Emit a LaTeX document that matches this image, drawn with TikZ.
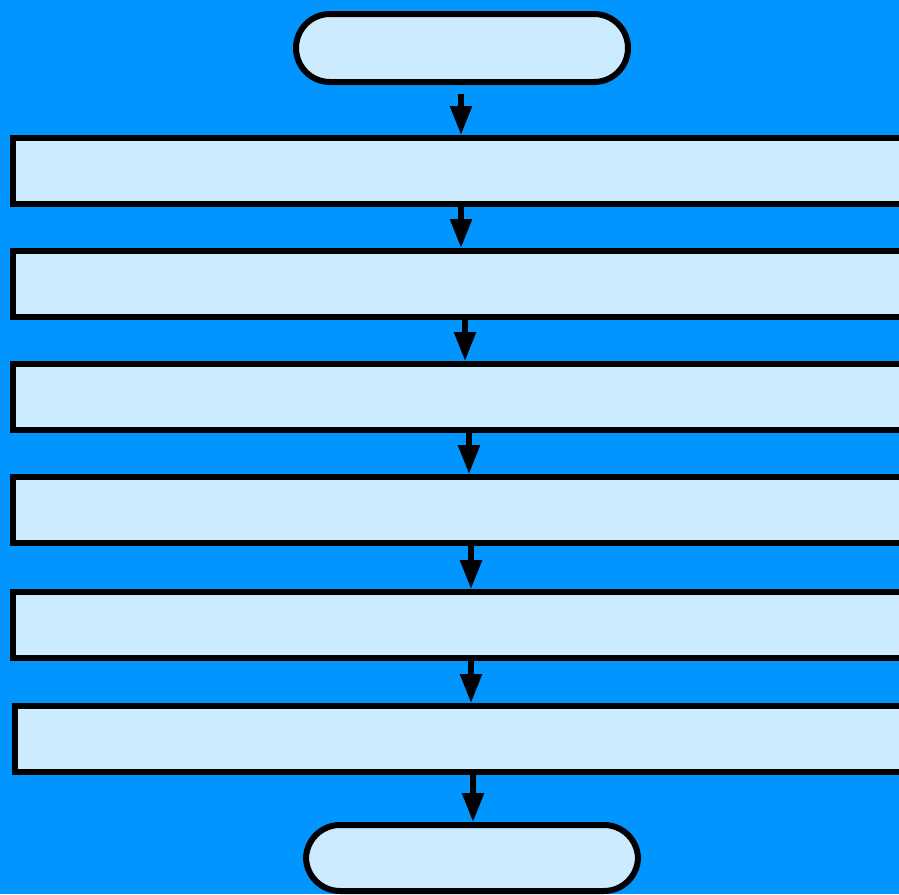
\documentclass[tikz,border=0pt]{standalone}
\usetikzlibrary{arrows.meta,calc}
\definecolor{bgblue}{HTML}{0095FF}
\definecolor{boxfill}{HTML}{CCEBFF}
\tikzset{
  stepbox/.style={draw=black, fill=boxfill, line width=6pt, rectangle,
    inner sep=0pt, anchor=west, minimum width=920pt, minimum height=66pt},
  terminal/.style={draw=black, fill=boxfill, line width=6pt, rectangle,
    rounded corners=34pt, inner sep=0pt, minimum width=332pt, minimum height=68pt},
  flow/.style={draw=black, line width=5.5pt, -{Triangle[length=29pt,width=21pt]}}
}
\begin{document}
\begin{tikzpicture}[x=1pt, y=-1pt]
  \useasboundingbox (0,0) rectangle (899,894);
  \fill[bgblue] (0,0) rectangle (899,894);
  \clip (0,0) rectangle (899,894);

  % terminals
  \node[terminal] (start) at (462,48) {};
  \node[terminal, minimum height=66pt] (stop) at (472,858) {};

  % process steps, running off the right edge
  \node[stepbox] (b1) at (10,171) {};
  \node[stepbox] (b2) at (10,284) {};
  \node[stepbox] (b3) at (10,397) {};
  \node[stepbox] (b4) at (10,510) {};
  \node[stepbox] (b5) at (10,625) {};
  \node[stepbox] (b6) at (12,739) {};

  % connectors
  \coordinate (s0) at ([xshift=-1pt, yshift=-9pt]start.south);
  \draw[flow] (s0) -- (s0 |- b1.north);
  \draw[flow] ([xshift=-12pt]b1.south) -- ([xshift=-12pt]b2.north);
  \draw[flow] ([xshift=-8pt]b2.south) -- ([xshift=-8pt]b3.north);
  \draw[flow] ([xshift=-4pt]b3.south) -- ([xshift=-4pt]b4.north);
  \draw[flow] ([xshift=-2pt]b4.south) -- ([xshift=-2pt]b5.north);
  \draw[flow] ([xshift=-2pt]b5.south) -- ([xshift=-2pt]b5.south |- b6.north);
  \draw[flow] ([xshift=-2pt]b6.south) -- ([xshift=-2pt]b6.south |- stop.north);
\end{tikzpicture}
\end{document}
